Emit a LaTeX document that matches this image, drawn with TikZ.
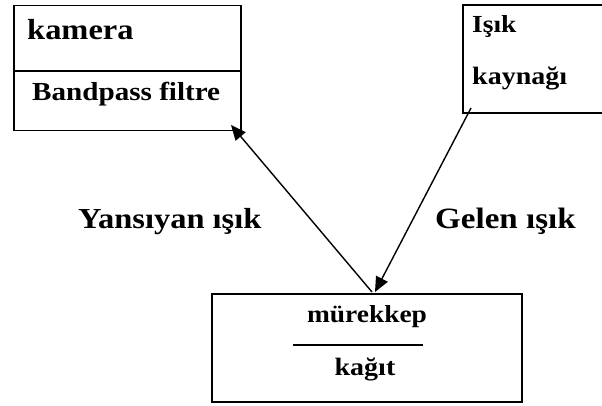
\documentclass[tikz,border=0pt]{standalone}
\usepackage{fontspec}
\setmainfont{Liberation Serif}[FakeStretch=1.12]
\usetikzlibrary{arrows.meta}
\tikzset{
  box/.style={draw, line width=1.8pt, rectangle, inner sep=0pt},
  lbl/.style={inner sep=0pt, font=\bfseries},
  arr/.style={line width=1.4pt, -{Triangle[length=15pt,width=13pt]}},
}
\begin{document}
\begin{tikzpicture}[x=1pt,y=-1pt]
\useasboundingbox (0,0) rectangle (602,406);
\clip (0,0) rectangle (602,406);
% camera box
\node[box, minimum width=227pt, minimum height=125pt] (cam) at (127.5,68) {};
\draw[line width=1.8pt] (cam.west |- 0,71) coordinate (camdl) -- (cam.east |- 0,71) coordinate (camdr);
\node[lbl, anchor=base west, font=\bfseries\fontsize{29}{32}\selectfont] (kam) at (27,40) {kamera};
\node[lbl, anchor=base west, font=\bfseries\fontsize{26}{30}\selectfont] (bpf) at (32,101) {Bandpass filtre};
% light source box
\node[box, minimum width=160pt, minimum height=108pt] (src) at (543,59) {};
\node[lbl, anchor=base west, font=\bfseries\fontsize{24.5}{28}\selectfont] (isik) at (472,33) {Işık};
\node[lbl, anchor=base west, font=\bfseries\fontsize{25}{28}\selectfont] (kay) at (472,85) {kaynağı};
% ink/paper box
\node[box, minimum width=310pt, minimum height=108pt] (ink) at (367,348) {};
\node[lbl, anchor=base, font=\bfseries\fontsize{24.5}{28}\selectfont] (mur) at (367,322) {mürekkep};
\node[lbl, anchor=base, font=\bfseries\fontsize{25}{28}\selectfont] (kag) at (365,375) {kağıt};
\coordinate (fl) at (293,345);
\coordinate (fr) at (423,345);
\draw[line width=1.3pt] (fl) -- (fr);
% labels
\node[lbl, anchor=base west, font=\bfseries\fontsize{29}{32}\selectfont] (yans) at (78,228) {Yansıyan ışık};
\node[lbl, anchor=base west, font=\bfseries\fontsize{29.5}{32}\selectfont] (gel) at (435,228) {Gelen ışık};
% arrows
\coordinate (rs) at (372,292);
\coordinate (re) at (231,125);
\coordinate (is) at (471,108);
\coordinate (ie) at (375,292);
\draw[arr] (rs) -- (re);
\draw[arr] (is) -- (ie);
\end{tikzpicture}
\end{document}
